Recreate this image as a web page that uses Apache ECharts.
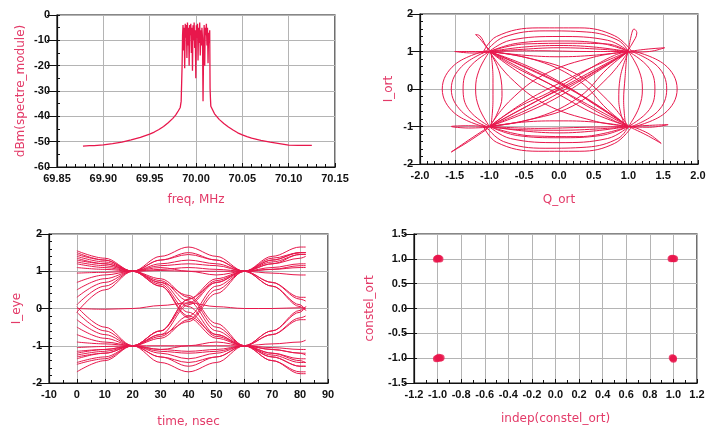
<!DOCTYPE html>
<html>
<head>
<meta charset="utf-8">
<script src="https://cdn.jsdelivr.net/npm/echarts@6/dist/echarts.min.js"></script>
<style>html,body{margin:0;padding:0;background:#fff}#main{width:706px;height:428px}</style>
</head>
<body>
<div id="main"></div>
<script>
// spectrum (top left)
var specFreq = [69.878, 69.885, 69.89, 69.90, 69.91, 69.92, 69.93, 69.94, 69.95, 69.955, 69.96, 69.965, 69.97, 69.975, 69.978, 69.981, 69.983, 69.984, 69.985, 69.9855,
  69.9860, 69.9866, 69.9872, 69.9878, 69.9884, 69.9890, 69.9896, 69.9902, 69.9908, 69.9914, 69.9920, 69.9926, 69.9932, 69.9938, 69.9944, 69.9950, 69.9956, 69.9962, 69.9968, 69.9974,
  69.9980, 69.9986, 69.9992, 69.9998, 70.0004, 70.0010, 70.0016, 70.0022, 70.0028, 70.0034, 70.0040, 70.0046, 70.0052, 70.0058, 70.0064, 70.0070, 70.0076, 70.0082, 70.0088, 70.0094,
  70.0100, 70.0106, 70.0112, 70.0118, 70.0124, 70.0130, 70.0136, 70.0142, 70.0148, 70.0152, 70.0156,
  70.016, 70.018, 70.02, 70.025, 70.03, 70.035, 70.04, 70.045, 70.05, 70.055, 70.06, 70.07, 70.08, 70.09, 70.10, 70.11, 70.125];
var specDbm = [-51.8, -51.6, -51.6, -51.3, -50.8, -50.2, -49.3, -48.3, -47.0, -46.2, -45.2, -44.0, -42.5, -40.8, -39.5, -37.8, -36.5, -34, -20, -8,
  -4, -14, -5, -21, -3.5, -9, -4, -17, -3, -12, -5, -20, -4, -8, -3.5, -15, -5, -22, -4, -10,
  -3, -13, -6, -25, -4, -9, -3.5, -18, -5, -11, -3, -16, -6, -12, -5, -9, -34, -14, -4, -20,
  -5, -8, -3.5, -12, -5, -19, -7, -11, -6, -29, -33,
  -36, -37.5, -39, -41.2, -42.8, -44.2, -45.4, -46.5, -47.3, -48.0, -48.6, -49.5, -50.2, -50.8, -51.4, -51.5, -51.5];

// I/Q trajectories (top right), points are [Q_ort, I_ort]
var iqPaths = [
  [[-1,1],[-0.5,1.12],[0,1.16],[0.5,1.12],[1,1]],
  [[-1,1],[-0.6,1.22],[0,1.28],[0.6,1.22],[1,1]],
  [[-1.02,0.98],[-0.7,1.3],[0,1.4],[0.7,1.3],[1.02,0.98]],
  [[-1.05,1],[-0.8,1.38],[-0.2,1.55],[0.4,1.52],[0.85,1.3],[1,1]],
  [[-1.1,0.95],[-0.9,1.4],[-0.3,1.63],[0.3,1.63],[0.8,1.42],[1.05,1]],
  [[-1,1],[-0.5,1.2],[0.2,1.22],[0.7,1.2],[1,1]],
  [[-1,1],[-0.5,0.9],[0,0.86],[0.5,0.9],[1,1]],
  [[-1,1],[-0.3,1.02],[0.4,1.0],[1,1]],
  [[-1,-1],[-0.5,-1.12],[0,-1.17],[0.5,-1.12],[1,-1]],
  [[-1,-1],[-0.6,-1.24],[0,-1.3],[0.6,-1.24],[1,-1]],
  [[-1.02,-0.98],[-0.7,-1.32],[0,-1.43],[0.7,-1.32],[1.02,-0.98]],
  [[-1.05,-1],[-0.8,-1.4],[-0.2,-1.58],[0.4,-1.55],[0.85,-1.32],[1,-1]],
  [[-1.1,-0.95],[-0.9,-1.42],[-0.3,-1.66],[0.3,-1.66],[0.8,-1.45],[1.05,-1]],
  [[-1,-1],[-0.5,-0.88],[0,-0.85],[0.5,-0.88],[1,-1]],
  [[-1,-1],[-0.3,-1.05],[0.4,-1.02],[1,-1]],
  [[-1,-1],[-0.4,-1.25],[0.3,-1.27],[1,-1]],
  [[-1,1],[-1.15,0.5],[-1.2,0],[-1.15,-0.5],[-1,-1]],
  [[-1,1],[-1.3,0.55],[-1.38,0],[-1.3,-0.55],[-1,-1]],
  [[-1.02,1.02],[-1.4,0.6],[-1.55,0],[-1.4,-0.6],[-1.02,-1.02]],
  [[-1.05,1.02],[-1.5,0.65],[-1.68,0],[-1.5,-0.65],[-1.05,-1.02]],
  [[-0.98,1],[-0.95,0.3],[-0.95,-0.3],[-0.98,-1]],
  [[-1,1],[-0.85,0.4],[-0.82,-0.2],[-0.9,-0.7],[-1,-1]],
  [[1,1],[1.15,0.5],[1.2,0],[1.15,-0.5],[1,-1]],
  [[1,1],[1.3,0.55],[1.38,0],[1.3,-0.55],[1,-1]],
  [[1.02,1.02],[1.42,0.6],[1.55,0],[1.42,-0.6],[1.02,-1.02]],
  [[1.05,1.02],[1.52,0.65],[1.7,0],[1.52,-0.65],[1.05,-1.02]],
  [[0.98,1],[0.95,0.3],[0.93,-0.3],[0.96,-1]],
  [[1,1],[0.88,0.3],[0.86,-0.3],[0.95,-1]],
  [[-1,1],[0,0],[1,-1]],
  [[-1,1],[-0.4,0.5],[0.1,0.05],[0.6,-0.5],[1,-1]],
  [[-1,1],[-0.5,0.65],[0,0.2],[0.5,-0.4],[1,-1]],
  [[-1,1],[-0.5,0.35],[0,-0.15],[0.5,-0.65],[1,-1]],
  [[-1,1],[-0.2,0.35],[0.4,-0.25],[1,-1]],
  [[-1,-1],[0,0],[1,1]],
  [[-1,-1],[-0.5,-0.35],[0,0.15],[0.5,0.6],[1,1]],
  [[-1,-1],[-0.5,-0.65],[0,-0.2],[0.5,0.4],[1,1]],
  [[-1,-1],[-0.4,-0.5],[0.1,0],[0.6,0.55],[1,1]],
  [[-1,-1],[-0.3,-0.3],[0.3,0.25],[1,1]],
  [[-1,1],[-0.7,0.3],[-0.2,-0.4],[0.5,-0.85],[1,-1]],
  [[-1,-1],[-0.5,-0.85],[0.2,-0.45],[0.7,0.3],[1,1]],
  [[-1,1],[-0.5,0.85],[0.2,0.45],[0.7,-0.3],[1,-1]],
  [[-1,-1],[-0.7,-0.3],[-0.2,0.4],[0.5,0.85],[1,1]],
  [[-1,1],[-0.6,0.55],[-0.1,0.1],[0.4,-0.45],[0.8,-0.85],[1,-1]],
  [[-1,-1],[-0.6,-0.5],[-0.1,-0.05],[0.4,0.5],[0.8,0.9],[1,1]],
  [[-1,1],[-0.3,0.75],[0.3,0.2],[0.7,-0.55],[1,-1]],
  [[-1,-1],[-0.3,-0.75],[0.3,-0.2],[0.7,0.55],[1,1]],
  [[-1,1],[-0.6,1.05],[0,1.1],[0.6,1.06],[1,1]],
  [[-1,-1],[-0.6,-1.08],[0,-1.1],[0.6,-1.06],[1,-1]],
  [[-1,1],[-1.12,1.3],[-1.2,1.45],[-1.14,1.42],[-1.05,1.15],[-0.98,1]],
  [[1,1],[1.03,1.35],[1.08,1.6],[1.12,1.5],[1.05,1.2],[0.98,1]],
  [[1,1],[1.25,1.06],[1.52,1.1],[1.3,1.0],[1,0.98]],
  [[-1,1],[-1.3,1.0],[-1.5,1.0],[-1.25,0.96],[-1,0.98]],
  [[-1,-1],[-1.25,-1.3],[-1.55,-1.68],[-1.3,-1.4],[-1.02,-1.05]],
  [[1,-1],[1.25,-1.22],[1.47,-1.45],[1.28,-1.18],[1.02,-0.98]],
  [[1,-1],[1.3,-0.97],[1.57,-0.95],[1.3,-1.02],[1,-1.01]],
  [[-1,-1],[-1.3,-0.98],[-1.55,-1.0],[-1.3,-1.04],[-1,-1.02]]
];

// eye diagram (bottom left)
var eyeTime = [0, 10, 20, 30, 40, 50, 60, 70, 80, 82];
var eyeTraces = [
  [1.55, 1.35, 1, 1.4, 1.65, 1.4, 1, 1.3, 1.5, 1.5],
  [1.45, 1.3, 1, 0.7, 0.05, -0.7, -1, -1.3, -1.55, -1.55],
  [1.4, 1.25, 1, 1.3, 1.5, 1.3, 1, 0.6, 0.1, -0.05],
  [1.3, 1.2, 1, 0.65, -0.1, -0.75, -1, -0.6, -0.05, 0.05],
  [1.2, 1.1, 1, 1.2, 1.3, 1.2, 1, 1.2, 1.35, 1.4],
  [1.1, 1.05, 1, 0.75, 0.2, -0.6, -1, -1.2, -1.4, -1.45],
  [0.95, 0.97, 1, 1.02, 1.0, 1.0, 1, 0.7, 0.25, 0.2],
  [0.5, 0.8, 1, 1.3, 1.45, 1.3, 1, 1.1, 1.2, 1.2],
  [0.1, 0.6, 1, 0.6, -0.2, -0.7, -1, -1.1, -1.2, -1.2],
  [-0.1, 0.5, 1, 1.15, 1.2, 1.15, 1, 0.95, 0.9, 0.9],
  [0.7, 0.9, 1, 0.8, 0.3, -0.5, -1, -1.4, -1.7, -1.7],
  [1.5, 1.3, 1, 1.05, 1.1, 1.05, 1, 1.35, 1.5, 1.5],
  [0.3, 0.7, 1, 1.1, 1.0, 0.9, 1, 1.25, 1.45, 1.45],
  [1.25, 1.15, 1, 0.6, -0.25, -0.8, -1, -1.05, -1.1, -1.1],
  [-1.5, -1.35, -1, -1.45, -1.7, -1.45, -1, -1.3, -1.55, -1.55],
  [-1.45, -1.3, -1, -0.7, 0.1, 0.7, 1, 1.3, 1.5, 1.5],
  [-1.35, -1.2, -1, -1.3, -1.55, -1.3, -1, -0.6, -0.1, 0.05],
  [-1.25, -1.15, -1, -0.6, 0.15, 0.75, 1, 0.6, 0.05, -0.05],
  [-1.15, -1.1, -1, -1.2, -1.35, -1.2, -1, -1.2, -1.35, -1.35],
  [-1.05, -1.02, -1, -0.75, -0.2, 0.6, 1, 1.2, 1.45, 1.45],
  [-0.9, -0.95, -1, -1.0, -1.0, -1.0, -1, -0.7, -0.25, -0.2],
  [-0.5, -0.8, -1, -1.3, -1.45, -1.3, -1, -1.1, -1.2, -1.25],
  [-0.1, -0.6, -1, -0.6, 0.25, 0.7, 1, 1.05, 1.1, 1.1],
  [0.05, -0.5, -1, -1.15, -1.2, -1.15, -1, -0.95, -0.9, -0.85],
  [-0.7, -0.9, -1, -0.8, -0.3, 0.5, 1, 1.4, 1.65, 1.65],
  [-1.7, -1.4, -1, -1.1, -1.15, -1.1, -1, -1.4, -1.75, -1.75],
  [-0.3, -0.7, -1, -1.1, -1.0, -0.9, -1, -1.25, -1.45, -1.45],
  [-1.2, -1.1, -1, -0.6, 0.25, 0.8, 1, 1.05, 1.15, 1.15],
  [1.35, 1.2, 1, 0.7, 0.35, -0.4, -1, -0.7, -0.3, -0.3],
  [-1.3, -1.2, -1, -0.7, -0.35, 0.4, 1, 0.7, 0.3, 0.3],
  [0, -0.02, 0, 0.08, 0.15, 0.05, 0, 0, 0.02, 0]
];

// constellation samples (bottom right)
var constX = [-1.0, -0.99, -1.01, -0.98, -1.0, 0.98, 1.0, 1.01, 0.99, -1.0, -0.98, -0.99, -1.01, -0.97, 1.0, 0.99, 1.0];
var constY = [1.0, 1.01, 0.99, 0.995, 1.01, 1.0, 1.0, 1.0, 1.01, -1.0, -1.0, -0.98, -1.01, -0.99, -1.0, -0.99, -1.02];

var RED = '#e8174c';
var NAME_RED = '#e33a68';
var INK = '#111';

function fmt(d) {
  return function (v) { if (Math.abs(v) < 1e-9) v = 0; return v.toFixed(d); };
}

function xAx(g, min, max, step, minor, d, name, gap) {
  return {
    type: 'value', gridIndex: g, position: 'bottom', min: min, max: max, interval: step,
    name: name, nameLocation: 'middle', nameGap: gap,
    nameTextStyle: { color: NAME_RED, fontSize: 12, fontFamily: 'DejaVu Sans' },
    axisLine: { show: true, onZero: false, lineStyle: { color: INK, width: 1.2 } },
    axisTick: { show: true, inside: true, length: 4, lineStyle: { color: INK } },
    minorTick: { show: true, splitNumber: minor, length: 3, lineStyle: { color: INK } },
    axisLabel: { color: INK, fontSize: 11, fontWeight: 'bold', fontFamily: 'Liberation Sans', margin: 6, formatter: fmt(d) },
    splitLine: { show: true, lineStyle: { color: '#b4b4b4', width: 1 } }
  };
}

function yAx(g, min, max, step, d, name, gap) {
  return {
    type: 'value', gridIndex: g, position: 'left', min: min, max: max, interval: step,
    name: name, nameLocation: 'middle', nameGap: gap,
    nameTextStyle: { color: NAME_RED, fontSize: 12, fontFamily: 'DejaVu Sans' },
    axisLine: { show: true, onZero: false, lineStyle: { color: INK, width: 1.2 } },
    axisTick: { show: true, inside: false, length: 10, lineStyle: { color: INK } },
    axisLabel: { color: INK, fontSize: 11, fontWeight: 'bold', fontFamily: 'Liberation Sans', margin: 7, padding: [0, 0, 6, 0], formatter: fmt(d) },
    splitLine: { show: true, lineStyle: { color: '#b4b4b4', width: 1 } }
  };
}

// second y axis in each grid, only for the small inward ticks
function yMinor(g, min, max, step) {
  return {
    type: 'value', gridIndex: g, position: 'left', offset: 0, min: min, max: max, interval: step,
    axisLine: { show: false, onZero: false }, axisLabel: { show: false }, splitLine: { show: false },
    axisTick: { show: true, inside: true, length: 3, lineStyle: { color: INK } }
  };
}

var gridBox = { show: true, borderColor: INK, borderWidth: 1.2, backgroundColor: 'transparent', containLabel: false, outerBoundsMode: 'none' };

var series = [];
series.push({
  type: 'line', xAxisIndex: 0, yAxisIndex: 0, showSymbol: false, silent: true,
  data: specFreq.map(function (f, i) { return [f, specDbm[i]]; }),
  lineStyle: { color: RED, width: 1.3 }
});
iqPaths.forEach(function (p) {
  series.push({
    type: 'line', xAxisIndex: 1, yAxisIndex: 1, showSymbol: false, silent: true, smooth: 0.4,
    data: p, lineStyle: { color: RED, width: 1 }
  });
});
eyeTraces.forEach(function (tr) {
  series.push({
    type: 'line', xAxisIndex: 2, yAxisIndex: 2, showSymbol: false, silent: true, smooth: 0.35, smoothMonotone: 'x',
    data: eyeTime.map(function (t, i) { return [t, tr[i]]; }),
    lineStyle: { color: RED, width: 1 }
  });
});
series.push({
  type: 'scatter', xAxisIndex: 3, yAxisIndex: 3, symbolSize: 7, silent: true,
  data: constX.map(function (x, i) { return [x, constY[i]]; }),
  itemStyle: { color: RED }
});

var myChart = echarts.init(document.getElementById('main'));
myChart.setOption({
  animation: false,
  backgroundColor: '#fff',
  grid: [
    Object.assign({ left: 57, top: 15, width: 278, height: 152 }, gridBox),
    Object.assign({ left: 420, top: 14, width: 278, height: 150 }, gridBox),
    Object.assign({ left: 49, top: 234, width: 279, height: 149 }, gridBox),
    Object.assign({ left: 414, top: 234, width: 283, height: 149 }, gridBox)
  ],
  xAxis: [
    xAx(0, 69.85, 70.15, 0.05, 5, 2, 'freq, MHz', 27),
    xAx(1, -2, 2, 0.5, 5, 1, 'Q_ort', 30),
    xAx(2, -10, 90, 10, 2, 0, 'time, nsec', 33),
    xAx(3, -1.2, 1.2, 0.2, 2, 1, 'indep(constel_ort)', 30)
  ],
  yAxis: [
    yAx(0, -60, 0, 10, 0, 'dBm(spectre_module)', 30),
    yAx(1, -2, 2, 1, 0, 'I_ort', 25),
    yAx(2, -2, 2, 1, 0, 'I_eye', 26),
    yAx(3, -1.5, 1.5, 0.5, 1, 'constel_ort', 38),
    yMinor(0, -60, 0, 5),
    yMinor(1, -2, 2, 0.2),
    yMinor(2, -2, 2, 0.2),
    yMinor(3, -1.5, 1.5, 0.5)
  ],
  series: series
});
</script>
</body>
</html>
